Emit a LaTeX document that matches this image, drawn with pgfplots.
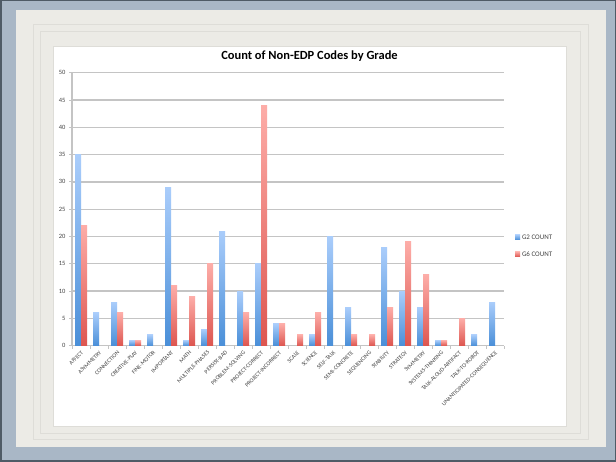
\documentclass[border=0pt]{standalone}
\usepackage{pgfplots}
\pgfplotsset{compat=1.18}
\usepackage{fontspec}
\setmainfont{Carlito}
\definecolor{frameblue}{HTML}{A9B7C6}
\definecolor{darkedge}{HTML}{4F5B66}
\definecolor{offwhite}{HTML}{ECEBE6}
\definecolor{bevel}{HTML}{DEDDD8}
\definecolor{gridc}{HTML}{C4C4C4}
\definecolor{bluetop}{HTML}{AACDFB}
\definecolor{bluebot}{HTML}{4A8FD8}
\definecolor{redtop}{HTML}{FDADA8}
\definecolor{redbot}{HTML}{DD5650}
\definecolor{labc}{HTML}{444444}
\pgfplotsset{
  bluebar/.style={draw=none, top color=bluetop, bottom color=bluebot, bar shift=-3bp, forget plot},
  redbar/.style={draw=none, top color=redtop, bottom color=redbot, bar shift=3bp, forget plot},
}
\begin{document}
\begin{tikzpicture}[x=1bp,y=1bp]
\useasboundingbox (0,0) rectangle (616,462);
\fill[frameblue] (0,0) rectangle (616,462);
\draw[line width=1.5bp, darkedge] (0.75,0.75) rectangle (615.25,461.25);
\fill[offwhite] (16,15) rectangle (606,452);
\draw[bevel, line width=0.8bp] (33,23) rectangle (588,438);
\draw[bevel, line width=0.8bp] (40,29) rectangle (580,431);
\fill[white] (53,36) rectangle (566,416);
\draw[line width=0.5bp, bevel] (53,36) rectangle (566,416);
\node[font=\fontsize{12.5}{14}\selectfont\bfseries] at (309.5,406) {Count of Non-EDP Codes by Grade};
\begin{axis}[
  at={(72bp,116.3bp)}, anchor=south west,
  scale only axis, width=432bp, height=273bp,
  xmin=-0.5, xmax=23.5, ymin=0, ymax=50,
  ybar=0pt, bar width=6bp,
  axis x line*=bottom, axis y line*=left,
  axis line style={gridc, line width=1.3bp},
  ytick={0,5,...,50},
  ymajorgrids, grid style={gridc, line width=1.3bp},
  xtick={0,...,23},
  minor xtick={-0.5,0.5,...,23.5},
  xticklabels={AFFECT,ASYMMETRY,CONNECTION,CREATIVE-PLAY,FINE-MOTOR,IMPORTANT,MATH,MULTIPLE-PHASES,PERSIST-BAD,PROBLEM-SOLVING,PROJECT-CORRECT,PROJECT-INCORRECT,SCALE,SCIENCE,SELF-TALK,SEMI-CONCRETE,SEQUENCING,STABILITY,STRATEGY,SYMMETRY,SYSTEMS-THINKING,TALK-ALOUD-ARTIFACT,TALK-TO-ROBOT,UNANTICIPATED-CONSEQUENCE},
  x tick label style={rotate=45, anchor=north east, font=\fontsize{5.8}{6}\selectfont, text=labc, inner sep=1bp},
  y tick label style={font=\fontsize{6.5}{7}\selectfont, text=labc},
  /pgf/number format/assume math mode=true,
  tick align=outside,
  major x tick style={draw=none},
  minor x tick style={gridc, line width=0.8bp},
  minor tick length=3bp,
  ytick style={gridc, line width=0.8bp},
  major tick length=3bp,
  legend style={at={(rel axis cs:1.025,0.415)}, anchor=north west, draw=none, fill=none,
    font=\fontsize{7}{8}\selectfont, text=labc, row sep=7bp, inner sep=0pt},
  legend image code/.code={\fill[#1] (0bp,-2bp) rectangle (5bp,3bp);},
]
% G2 COUNT (category index / value)
\pgfplotsforeachungrouped \cx/\cy in {0/35, 1/6, 2/8, 3/1, 4/2, 5/29, 6/1, 7/3, 8/21, 9/10, 10/15, 11/4,
  13/2, 14/20, 15/7, 17/18, 18/10, 19/7, 20/1, 22/2, 23/8}{%
  \edef\tmp{\noexpand\addplot[bluebar] coordinates {(\cx,\cy)};}\tmp}
% G6 COUNT
\pgfplotsforeachungrouped \cx/\cy in {0/22, 2/6, 3/1, 5/11, 6/9, 7/15, 9/6, 10/44, 11/4, 12/2, 13/6,
  15/2, 16/2, 17/7, 18/19, 19/13, 20/1, 21/5}{%
  \edef\tmp{\noexpand\addplot[redbar] coordinates {(\cx,\cy)};}\tmp}
\addlegendimage{top color=bluetop, bottom color=bluebot, draw=none}
\addlegendentry{G2 COUNT}
\addlegendimage{top color=redtop, bottom color=redbot, draw=none}
\addlegendentry{G6 COUNT}
\end{axis}
\end{tikzpicture}
\end{document}
